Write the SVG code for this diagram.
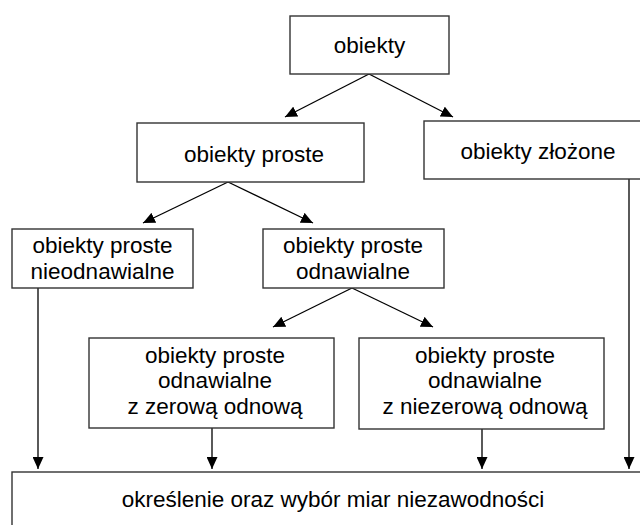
<svg xmlns="http://www.w3.org/2000/svg" width="640" height="525" viewBox="0 0 640 525">
<style>
.box{fill:#fff;stroke:#333;stroke-width:1.4}
.t{font-family:"Liberation Sans",Arial,sans-serif;font-size:22.5px;fill:#000;text-anchor:middle}
.c{stroke:#000;stroke-width:1.3;fill:none;marker-end:url(#ah)}
</style>
<defs>
<marker id="ah" markerUnits="userSpaceOnUse" markerWidth="12" markerHeight="11" refX="12" refY="5.5" orient="auto" viewBox="0 0 12 11">
<path d="M0,0 L12,5.5 L0,11 Z" fill="#000"/>
</marker>
</defs>
<rect width="640" height="525" fill="#fff"/>
<g id="connectors">
<line class="c" x1="369" y1="74" x2="285" y2="117"/>
<line class="c" x1="369" y1="74" x2="453" y2="117"/>
<line class="c" x1="228" y1="182" x2="143" y2="223"/>
<line class="c" x1="228" y1="182" x2="313" y2="223"/>
<line class="c" x1="352" y1="288" x2="273" y2="327"/>
<line class="c" x1="352" y1="288" x2="433" y2="327"/>
<line class="c" x1="38" y1="288" x2="38" y2="469"/>
<line class="c" x1="212" y1="428" x2="212" y2="469"/>
<line class="c" x1="482" y1="429" x2="482" y2="469"/>
<line class="c" x1="629" y1="179" x2="629" y2="469"/>
</g>
<g id="n-obiekty">
<rect class="box" x="290" y="16" width="159" height="58"/>
<text class="t" x="369.5" y="53">obiekty</text>
</g>
<g id="n-proste">
<rect class="box" x="137" y="123" width="227" height="59"/>
<text class="t" x="254" y="162">obiekty proste</text>
</g>
<g id="n-zlozone">
<rect class="box" x="424" y="121" width="230" height="58"/>
<text class="t" x="538" y="159">obiekty złożone</text>
</g>
<g id="n-nieodnawialne">
<rect class="box" x="12" y="229" width="181" height="59"/>
<text class="t" x="102.5" y="253">obiekty proste</text>
<text class="t" x="102.5" y="279">nieodnawialne</text>
</g>
<g id="n-odnawialne">
<rect class="box" x="263" y="229" width="181" height="59"/>
<text class="t" x="353" y="253">obiekty proste</text>
<text class="t" x="353" y="279">odnawialne</text>
</g>
<g id="n-zerowa">
<rect class="box" x="89" y="338" width="245" height="90"/>
<text class="t" x="215" y="363">obiekty proste</text>
<text class="t" x="215" y="388">odnawialne</text>
<text class="t" x="215" y="414">z zerową odnową</text>
</g>
<g id="n-niezerowa">
<rect class="box" x="359" y="338" width="245" height="91"/>
<text class="t" x="485" y="363">obiekty proste</text>
<text class="t" x="485" y="388">odnawialne</text>
<text class="t" x="485" y="414">z niezerową odnową</text>
</g>
<g id="n-miary">
<rect class="box" x="12" y="472" width="645" height="70"/>
<text class="t" x="333" y="507">określenie oraz wybór miar niezawodności</text>
</g>
</svg>
